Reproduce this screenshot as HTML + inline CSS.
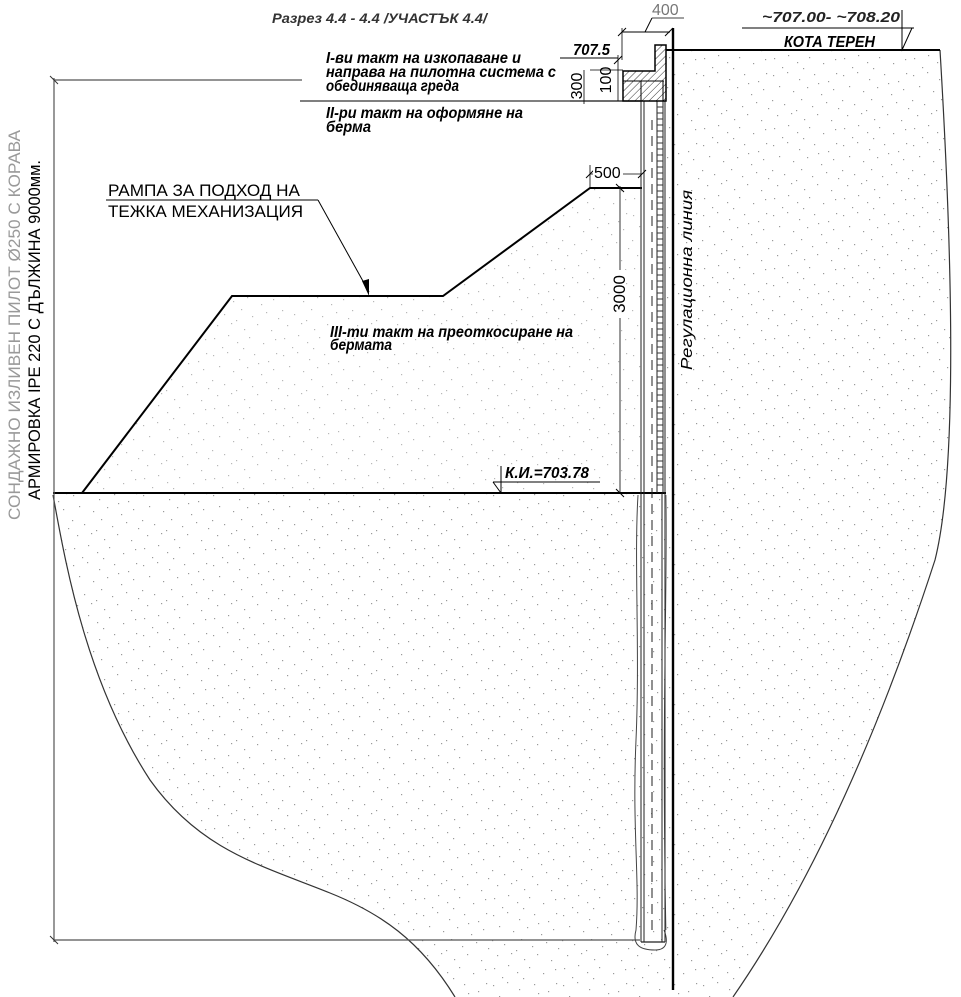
<!DOCTYPE html>
<html><head><meta charset="utf-8"><style>
html,body{margin:0;padding:0;background:#fff;}
svg{display:block}
text{font-family:"Liberation Sans",sans-serif;}
.bi{font-weight:bold;font-style:italic;}
</style></head><body>
<svg width="961" height="997" viewBox="0 0 961 997" xmlns="http://www.w3.org/2000/svg">
<defs>
<pattern id="dots" width="70" height="70" patternUnits="userSpaceOnUse">
<g fill="#9a9a9a">
<rect x="3" y="5" width="1.2" height="1.2"/><rect x="17" y="2" width="1.2" height="1.2"/><rect x="29" y="9" width="1.2" height="1.2"/><rect x="44" y="4" width="1.2" height="1.2"/><rect x="58" y="11" width="1.2" height="1.2"/><rect x="66" y="3" width="1.2" height="1.2"/>
<rect x="9" y="16" width="1.2" height="1.2"/><rect x="23" y="21" width="1.2" height="1.2"/><rect x="37" y="17" width="1.2" height="1.2"/><rect x="51" y="24" width="1.2" height="1.2"/><rect x="63" y="19" width="1.2" height="1.2"/>
<rect x="2" y="30" width="1.2" height="1.2"/><rect x="14" y="34" width="1.2" height="1.2"/><rect x="31" y="29" width="1.2" height="1.2"/><rect x="42" y="36" width="1.2" height="1.2"/><rect x="56" y="32" width="1.2" height="1.2"/><rect x="68" y="38" width="1.2" height="1.2"/>
<rect x="7" y="45" width="1.2" height="1.2"/><rect x="21" y="43" width="1.2" height="1.2"/><rect x="34" y="49" width="1.2" height="1.2"/><rect x="47" y="44" width="1.2" height="1.2"/><rect x="61" y="50" width="1.2" height="1.2"/>
<rect x="4" y="58" width="1.2" height="1.2"/><rect x="18" y="55" width="1.2" height="1.2"/><rect x="27" y="62" width="1.2" height="1.2"/><rect x="39" y="57" width="1.2" height="1.2"/><rect x="53" y="63" width="1.2" height="1.2"/><rect x="65" y="59" width="1.2" height="1.2"/>
<rect x="12" y="67" width="1.2" height="1.2"/><rect x="33" y="68" width="1.2" height="1.2"/><rect x="48" y="13" width="1.2" height="1.2"/><rect x="26" y="40" width="1.2" height="1.2"/>
</g></pattern>
<pattern id="hatch" width="5" height="5" patternUnits="userSpaceOnUse" patternTransform="rotate(45)">
<line x1="0" y1="0" x2="0" y2="5" stroke="#333" stroke-width="1"/></pattern>
</defs>

<path d="M53,493 C65,560 85,680 150,780 C200,850 260,865 330,893 C380,913 420,940 455,997 L733,997 C800,900 870,760 935,560 C955,480 955,300 940,50 L666,50 L666,493 Z" fill="url(#dots)"/>
<path d="M82,493 L232,296 L443,296 L590,188 L642,188 L642,493 Z" fill="url(#dots)" opacity="0.7"/>

<path d="M53,495 C65,560 85,680 150,780 C200,850 260,865 330,893 C380,913 420,940 455,997" fill="none" stroke="#333" stroke-width="1.2"/>
<path d="M940,50 C955,300 955,480 935,560 C870,760 800,900 733,997" fill="none" stroke="#333" stroke-width="1.2"/>
<line x1="666" y1="50" x2="940" y2="50" stroke="#000" stroke-width="2"/>

<polyline points="82,493 232,296 443,296 590,188 642,188" fill="none" stroke="#000" stroke-width="2"/>
<line x1="53" y1="493" x2="666" y2="493" stroke="#000" stroke-width="2"/>

<line x1="54" y1="78" x2="54" y2="942" stroke="#555" stroke-width="1.2"/>
<line x1="54" y1="80" x2="302" y2="80" stroke="#555" stroke-width="1.2"/>
<line x1="50" y1="76" x2="58" y2="84" stroke="#333"/>
<line x1="54" y1="940" x2="640" y2="940" stroke="#555" stroke-width="1.2"/>
<line x1="50" y1="936" x2="58" y2="944" stroke="#333"/>
<line x1="300" y1="101" x2="640" y2="101" stroke="#333" stroke-width="1.2"/>

<path d="M638,495 C634,560 640,650 636,740 C632,830 640,880 636,930 C632,945 640,950 655,950 C668,950 668,940 664,930" fill="none" stroke="#444" stroke-width="1"/>
<path d="M666,495 C668,600 661,700 666,930" fill="none" stroke="#555" stroke-width="0.8"/>
<line x1="641" y1="101" x2="641" y2="942" stroke="#222" stroke-width="1"/>
<line x1="644" y1="101" x2="644" y2="942" stroke="#222" stroke-width="1"/>
<line x1="652" y1="120" x2="652" y2="930" stroke="#222" stroke-width="1" stroke-dasharray="10,6"/>
<line x1="662" y1="493" x2="662" y2="942" stroke="#222" stroke-width="1"/>
<line x1="665" y1="101" x2="665" y2="942" stroke="#222" stroke-width="1"/>
<line x1="641" y1="942" x2="665" y2="942" stroke="#222" stroke-width="1.2"/>
<line x1="657" y1="101" x2="657" y2="493" stroke="#222" stroke-width="1"/>
<line x1="663" y1="101" x2="663" y2="493" stroke="#222" stroke-width="1"/>
<path d="M657,107h6M657,113h6M657,119h6M657,125h6M657,131h6M657,137h6M657,143h6M657,149h6M657,155h6M657,161h6M657,167h6M657,173h6M657,179h6M657,185h6M657,191h6M657,197h6M657,203h6M657,209h6M657,215h6M657,221h6M657,227h6M657,233h6M657,239h6M657,245h6M657,251h6M657,257h6M657,263h6M657,269h6M657,275h6M657,281h6M657,287h6M657,293h6M657,299h6M657,305h6M657,311h6M657,317h6M657,323h6M657,329h6M657,335h6M657,341h6M657,347h6M657,353h6M657,359h6M657,365h6M657,371h6M657,377h6M657,383h6M657,389h6M657,395h6M657,401h6M657,407h6M657,413h6M657,419h6M657,425h6M657,431h6M657,437h6M657,443h6M657,449h6M657,455h6M657,461h6M657,467h6M657,473h6M657,479h6M657,485h6" stroke="#333" stroke-width="1"/>

<path d="M623,101 L623,71 L655,71 L655,45 L666,45 L666,101 Z" fill="url(#hatch)" stroke="#000" stroke-width="1.5"/>
<line x1="623" y1="81" x2="664" y2="81" stroke="#000" stroke-width="1"/>
<rect x="641" y="81" width="22" height="20" fill="none" stroke="#000" stroke-width="1"/>

<line x1="673" y1="28" x2="673" y2="990" stroke="#000" stroke-width="2.4"/>
<text transform="translate(692,280) rotate(-90)" font-size="16" text-anchor="middle" font-style="italic" textLength="180" lengthAdjust="spacingAndGlyphs">Регулационна линия</text>

<line x1="622" y1="32" x2="670" y2="32" stroke="#000" stroke-width="1"/>
<line x1="622" y1="28" x2="622" y2="60" stroke="#000" stroke-width="0.8"/>
<line x1="618" y1="36" x2="626" y2="28" stroke="#000"/><line x1="665" y1="36" x2="673" y2="28" stroke="#000"/>
<line x1="645" y1="32" x2="652" y2="18" stroke="#000"/>
<line x1="652" y1="18" x2="684" y2="18" stroke="#000" stroke-width="0.8"/>
<text x="652" y="15" font-size="16" fill="#777">400</text>
<text x="573" y="55" font-size="16" class="bi" textLength="37" lengthAdjust="spacingAndGlyphs">707.5</text>
<line x1="560" y1="58" x2="618" y2="58" stroke="#000"/>
<line x1="618" y1="55" x2="618" y2="101" stroke="#000" stroke-width="0.8"/>
<line x1="614" y1="64" x2="622" y2="56" stroke="#000"/>
<line x1="590" y1="70" x2="623" y2="70" stroke="#000" stroke-width="0.8"/>
<line x1="570" y1="101" x2="623" y2="101" stroke="#000" stroke-width="0.8"/>
<line x1="584" y1="70" x2="584" y2="104" stroke="#000" stroke-width="0.8"/>
<text transform="translate(611,80) rotate(-90)" font-size="16" text-anchor="middle">100</text>
<text transform="translate(582,86) rotate(-90)" font-size="16" text-anchor="middle">300</text>

<text x="762" y="22" font-size="15" class="bi" fill="#222" textLength="138" lengthAdjust="spacingAndGlyphs">~707.00- ~708.20</text>
<line x1="742" y1="28" x2="914" y2="28" stroke="#000" stroke-width="1"/>
<text x="784" y="47" font-size="16" class="bi" textLength="91" lengthAdjust="spacingAndGlyphs">КОТА ТЕРЕН</text>
<line x1="902" y1="10" x2="902" y2="50" stroke="#000" stroke-width="1"/>
<line x1="902" y1="50" x2="912" y2="28" stroke="#000" stroke-width="1"/>

<line x1="590" y1="174" x2="642" y2="174" stroke="#000" stroke-width="0.8"/>
<line x1="590" y1="165" x2="590" y2="188" stroke="#000" stroke-width="0.8"/>
<line x1="586" y1="178" x2="594" y2="170" stroke="#000"/><line x1="638" y1="178" x2="646" y2="170" stroke="#000"/>
<rect x="593" y="164" width="30" height="14" fill="#fff"/>
<text x="594" y="178" font-size="16">500</text>
<line x1="620" y1="186" x2="620" y2="493" stroke="#000" stroke-width="0.8"/>
<line x1="616" y1="184" x2="624" y2="192" stroke="#000"/><line x1="616" y1="489" x2="624" y2="497" stroke="#000"/>
<rect x="611" y="270" width="15" height="48" fill="#fff"/>
<text transform="translate(625,294) rotate(-90)" font-size="17" text-anchor="middle">3000</text>

<text x="505" y="478" font-size="16" class="bi" textLength="84" lengthAdjust="spacingAndGlyphs">К.И.=703.78</text>
<line x1="493" y1="482" x2="600" y2="482" stroke="#000" stroke-width="1"/>
<line x1="501" y1="466" x2="501" y2="493" stroke="#000" stroke-width="1"/>
<line x1="493" y1="482" x2="501" y2="493" stroke="#000" stroke-width="1"/>

<text x="272" y="23" font-size="14" class="bi" fill="#333" textLength="215" lengthAdjust="spacingAndGlyphs">Разрез 4.4 - 4.4 /УЧАСТЪК 4.4/</text>
<g font-size="16" class="bi">
<text x="326" y="63" textLength="195" lengthAdjust="spacingAndGlyphs">I-ви такт на изкопаване и</text>
<text x="326" y="77" textLength="230" lengthAdjust="spacingAndGlyphs">направа на пилотна система с</text>
<text x="326" y="91" textLength="133" lengthAdjust="spacingAndGlyphs">обединяваща греда</text>
<text x="326" y="118" textLength="197" lengthAdjust="spacingAndGlyphs">II-ри такт на оформяне на</text>
<text x="326" y="132" textLength="45" lengthAdjust="spacingAndGlyphs">берма</text>
<text x="330" y="337" textLength="243" lengthAdjust="spacingAndGlyphs">III-ти такт на преоткосиране на</text>
<text x="330" y="350" textLength="62" lengthAdjust="spacingAndGlyphs">бермата</text>
</g>
<text x="108" y="196" font-size="17" textLength="192" lengthAdjust="spacingAndGlyphs">РАМПА ЗА ПОДХОД НА</text>
<line x1="106" y1="200" x2="318" y2="200" stroke="#000" stroke-width="1"/>
<text x="108" y="217" font-size="17" textLength="195" lengthAdjust="spacingAndGlyphs">ТЕЖКА МЕХАНИЗАЦИЯ</text>
<line x1="318" y1="200" x2="369" y2="292" stroke="#000" stroke-width="1"/>
<polygon points="369,296 362,281 369,279" fill="#000"/>

<text transform="translate(20,325) rotate(-90)" font-size="17" text-anchor="middle" fill="#999" textLength="390" lengthAdjust="spacingAndGlyphs">СОНДАЖНО ИЗЛИВЕН ПИЛОТ Ø250 С КОРАВА</text>
<text transform="translate(40,330) rotate(-90)" font-size="17" text-anchor="middle" textLength="340" lengthAdjust="spacingAndGlyphs">АРМИРОВКА IPE 220 С ДЪЛЖИНА  9000мм.</text>
</svg>
</body></html>
